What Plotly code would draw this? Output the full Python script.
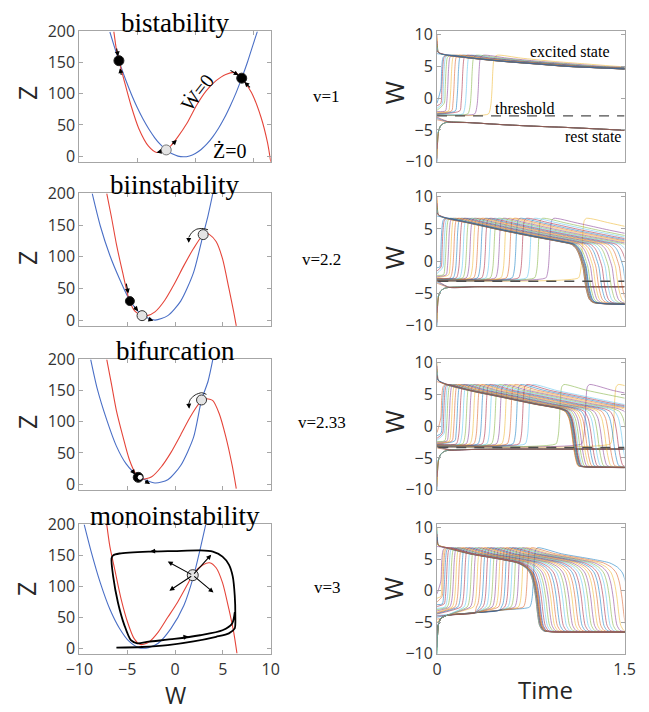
import plotly.graph_objects as go

# ======================= DATA =======================
row_titles = ["bistability", "biinstability", "bifurcation", "monoinstability"]
v_labels = ["v=1", "v=2.2", "v=2.33", "v=3"]

# ---- left panels: red = W-nullcline, blue = Z-nullcline (W, Z) ----
red_w_r1 = [-7.03, -6.80, -6.59, -6.12, -5.56, -4.87, -4.04, -3.34, -2.65, -2.10, -1.54, -0.71, 0.12, 0.95, 1.79, 2.62, 3.45, 4.00, 4.84, 5.67, 6.22, 6.50]
red_z_r1 = [200, 170, 153, 120, 82, 44, 16, 6, 9, 17, 30, 53, 82, 105, 121, 131, 134, 125, 102, 62, 22, -9]
blue_w_r1 = [-7.37, -7.0, -6.5, -6.0, -5.5, -5.0, -4.5, -4.0, -3.5, -3.0, -2.5, -2.0, -1.5, -1.03, -0.5, 0.0, 0.5, 1.0, 1.5, 2.0, 2.5, 3.0, 3.5, 4.0, 4.5, 5.0, 5.35]
blue_z_r1 = [199, 176.5, 148, 122, 98.5, 77.5, 59, 43, 29.4, 18.3, 9.8, 3.7, 0.1, -1, 0.4, 4.3, 10.7, 19.5, 30.9, 44.7, 61, 80, 101, 125, 151, 180, 200]

red_w_r2 = [-7.14, -6.64, -6.13, -5.46, -4.79, -4.20, -3.45, -2.90, -2.10, -1.09, -0.08, 0.92, 1.93, 2.94, 3.30, 3.61, 4.29, 4.96, 5.63, 6.13, 6.40]
red_z_r2 = [200, 162, 120, 74, 32, 14, 7, 7, 13, 31, 57, 86, 113, 135, 136.5, 135, 124, 97, 50, 13, -9]
blue_w_r2 = [-8.66, -7.82, -6.81, -5.80, -4.79, -3.45, -2.10, -0.76, 0.59, 1.93, 2.94, 3.45, 3.95]
blue_z_r2 = [200, 149, 102, 65, 33, 8, 0, 7, 30, 75, 135, 165, 200]

red_w_r3 = [-7.14, -6.64, -6.13, -5.46, -4.79, -4.12, -3.45, -2.44, -1.43, -0.42, 0.59, 1.60, 2.61, 3.28, 3.95, 4.62, 5.29, 5.97, 6.40]
red_z_r3 = [200, 160, 118, 77, 40, 17, 8, 12, 28, 51, 79, 108, 131, 137, 134, 113, 77, 30, -7]
blue_w_r3 = [-8.82, -8.15, -7.14, -6.13, -5.13, -3.78, -2.10, -0.76, 0.59, 1.93, 2.77, 3.45, 3.95]
blue_z_r3 = [200, 154, 103, 61, 33, 12, 2, 7, 30, 75, 135, 165, 200]

red_w_r4 = [-7.14, -6.81, -6.30, -5.63, -4.96, -4.29, -3.61, -2.77, -1.76, -0.76, 0.25, 1.26, 1.93, 2.94, 3.61, 4.29, 4.96, 5.63, 6.13, 6.47]
red_z_r4 = [200, 164, 127, 79, 42, 16, 6, 9.5, 26, 50, 74, 102, 121, 135, 138, 130, 106, 63, 26, -8]
blue_w_r4 = [-9.50, -8.82, -7.82, -6.81, -5.80, -4.79, -3.78, -2.77, -1.76, -0.42, 0.92, 1.93, 2.61, 3.21]
blue_z_r4 = [200, 159, 106, 63, 32, 11, 1, 1, 8, 32, 69, 116, 159, 200]

# limit cycle (monoinstability)
cycle_w = [-6.13, -3.45, -0.76, 1.93, 4.29, 5.63, 6.24, 6.30, 6.24, 6.03, 5.63, 4.96, 3.95, 2.61, -0.08, -2.77, -5.80, -6.47, -6.64, -6.47, -5.97, -5.29, -4.62, -3.95, -2.77, -0.08, 2.61, 4.96, 5.97, 6.24]
cycle_z = [1, 2, 5, 11, 18.5, 24, 32, 53, 85, 116, 135, 148, 156, 158, 157, 156, 153, 150, 145, 116, 74, 37, 13, 8, 10.6, 15, 21, 29, 40, 58]

# fixed points
black_w_r1, black_z_r1 = [-6.59, 4.00], [153, 125]
gray_w_r1, gray_z_r1 = [-2.51], [10]
black_w_r2, black_z_r2 = [-4.72], [30]
gray_w_r2, gray_z_r2 = [-3.45, 2.94], [7, 135]
half_w_r3, half_z_r3 = [-3.85], [11]
gray_w_r3, gray_z_r3 = [2.77], [135]
gray_w_r4, gray_z_r4 = [1.85], [118]

# curved arrows around the upper unstable point (rows 2, 3)
arc_w_r2 = [3.45, 2.94, 2.27, 1.76, 1.43, 1.43]
arc_z_r2 = [142.6, 144.6, 143.6, 138.4, 130.5, 124]
arc_w_r3 = [3.28, 2.77, 2.10, 1.60, 1.43, 1.46]
arc_z_r3 = [144, 146.6, 143, 136, 128.5, 123]

# small arrows (tail W, tail Z, head W, head Z)
arrows_r1 = [(-6.81, 175, -6.66, 160), (-6.36, 128, -6.50, 141), (2.9, 139, 3.73, 129.5),
             (4.84, 108, 4.23, 119), (-2.87, 7.8, -3.34, 5.7), (-2.1, 17, -1.6, 26)]
arrows_r2 = [(-5.13, 60, -4.89, 42), (-4.39, 23.5, -3.85, 14), (-2.94, 2.6, -2.27, -1),
             (1.43, 130.5, 1.43, 122)]
arrows_r3 = [(-4.62, 24.9, -4.18, 15.5), (-3.28, 6.7, -2.61, 0.5), (1.43, 128.5, 1.48, 121)]
arrows_r4 = [(1.85, 118, -0.76, 140), (1.85, 118, 3.78, 151), (1.85, 118, -0.59, 93),
             (1.85, 118, 4.02, 90), (-1.8, 157, -2.6, 156.5), (0.6, 17, 1.4, 19)]

# ---- right panels: W(t) ----
# main waveform of a trajectory, starting at the foot of its upstroke (t, W)
main_t_r1 = [0, 0.012, 0.022, 0.03, 0.037, 0.048, 0.07, 0.26, 0.51, 0.77, 1.03, 1.3, 1.6, 2.0]
main_w_r1 = [-2.5, -2.0, -0.8, 1.5, 4.5, 6.4, 6.75, 6.3, 5.8, 5.4, 5.0, 4.75, 4.5, 4.3]
main_t_r2 = [0, 0.012, 0.022, 0.03, 0.037, 0.048, 0.065, 0.256, 0.513, 0.77, 0.974, 1.077, 1.11, 1.13, 1.15, 1.167, 1.19, 1.218, 1.25, 2.8]
main_w_r2 = [-2.6, -2.1, -0.9, 1.5, 4.5, 6.3, 6.65, 5.9, 4.8, 3.8, 3.06, 2.6, 2.0, 1.3, 0.2, -0.9, -4.0, -5.9, -6.4, -6.4]
main_t_r3 = [0, 0.012, 0.022, 0.03, 0.037, 0.048, 0.065, 0.256, 0.513, 0.77, 0.974, 1.026, 1.056, 1.077, 1.092, 1.108, 1.128, 1.18, 2.8]
main_w_r3 = [-2.8, -2.3, -1.1, 1.3, 4.3, 6.2, 6.55, 5.6, 4.56, 3.5, 2.75, 2.3, 1.2, -0.9, -3.2, -5.0, -6.2, -6.4, -6.4]
main_t_r4 = [0, 0.012, 0.022, 0.03, 0.037, 0.048, 0.065, 0.256, 0.513, 0.641, 0.705, 0.744, 0.77, 0.79, 0.805, 0.82, 0.846, 0.9, 2.4]
main_w_r4 = [-2.6, -2.1, -0.9, 1.5, 4.5, 6.4, 6.8, 5.85, 4.95, 4.4, 3.7, 2.8, 1.2, -1.2, -3.8, -5.5, -6.3, -6.5, -6.3]

# upstroke delays and starting values of the delayed trajectories
delays_r1 = [0.0, 0.008, 0.02, 0.035, 0.055, 0.08, 0.105, 0.135, 0.17, 0.205, 0.245, 0.3, 0.41]
starts_r1 = [-0.8, -1.2, -1.6, -1.9, -2.1, -2.25, -2.35, -2.45, -2.5, -2.55, -2.6, -2.65, -2.7]
delays_r2 = [0, 0.01, 0.025, 0.04, 0.061, 0.081, 0.104, 0.128, 0.153, 0.179, 0.205, 0.233, 0.261, 0.292,
             0.322, 0.356, 0.389, 0.425, 0.466, 0.51, 0.553, 0.599, 0.651, 0.715, 0.779, 0.869, 1.13]
starts_r2 = [-1.0, -1.5, -1.9, -2.2, -2.4, -2.55, -2.65, -2.7, -2.75, -2.8, -2.85, -2.88, -2.9, -2.92,
             -2.94, -2.96, -2.97, -2.98, -2.99, -3.0, -3.0, -3.01, -3.02, -3.02, -3.03, -3.04, -3.05]
delays_r3 = [0, 0.01, 0.022, 0.035, 0.05, 0.068, 0.087, 0.108, 0.13, 0.153, 0.178, 0.204, 0.232, 0.262,
             0.293, 0.326, 0.36, 0.396, 0.434, 0.474, 0.516, 0.56, 0.606, 0.654, 0.704, 0.95, 1.155, 1.385]
starts_r3 = [-1.0, -1.5, -1.9, -2.2, -2.4, -2.55, -2.65, -2.75, -2.8, -2.85, -2.9, -2.95, -3.0, -3.02,
             -3.05, -3.08, -3.1, -3.12, -3.14, -3.16, -3.18, -3.2, -3.2, -3.21, -3.22, -3.23, -3.24, -3.25]
delays_r4 = [0, 0.008, 0.018, 0.03, 0.045, 0.062, 0.08, 0.1, 0.12, 0.142, 0.165, 0.19, 0.215, 0.24, 0.265, 0.29,
             0.315, 0.34, 0.365, 0.39, 0.415, 0.44, 0.465, 0.49, 0.515, 0.54, 0.565, 0.59, 0.62, 0.65, 0.69, 0.74]
starts_r4 = [-0.5, -1.2, -1.8, -2.2, -2.5, -2.8, -3.0, -3.2, -3.4, -3.5, -3.6, -3.7, -10, -9.5, -9, -8.5,
             -8, -7.5, -7, -6.5, -6, -5.5, -5, -4.5, -4.2, -4.0, -3.9, -10, -9, -8, -7, -6]
# slow approach of low starts toward the lower band (row 4)
band_t_r4 = [0.004, 0.012, 0.03, 0.08, 0.3, 0.5, 0.7]
band_w_r4 = [-7.0, -5.3, -4.4, -3.9, -3.5, -3.1, -2.8]

# trajectories that start high and fall to the excited branch
high_starts = [10, 9.5, 9, 8.5, 8, 7.5, 7]
high_delays = [0, 0.004, 0.008, 0.012, 0.016, 0.02, 0.026]
high_t = [0.003, 0.01]
high_w = [8.3, 7.2]

# rest branch and trajectories that settle on it
rest_t_r1 = [0.004, 0.012, 0.03, 0.06, 0.1, 0.26, 0.51, 0.77, 1.03, 1.3, 1.5]
rest_w_r1 = [-7.0, -5.2, -4.3, -3.9, -3.75, -3.85, -4.15, -4.4, -4.6, -4.85, -5.05]
rest_t_r2 = [0.004, 0.012, 0.03, 0.06, 0.1, 0.3, 0.6, 1.0, 1.5]
rest_w_r2 = [-7.0, -5.4, -4.6, -4.2, -4.05, -3.95, -3.95, -3.95, -3.95]
rest_t_r3 = [0.004, 0.012, 0.03, 0.06, 0.1, 0.3, 0.6, 1.0, 1.5]
rest_w_r3 = [-7.0, -5.3, -4.4, -3.95, -3.75, -3.65, -3.6, -3.6, -3.6]
low_starts = [-10, -9.5, -9, -8, -7, -5.5]
near_starts = [-3.0, -3.2, -3.4]

thresholds = [-2.8, -3.1, -3.35]
threshold_t0 = [0.0, 0.01, 0.01]

# ======================= FIGURE =======================
COLORS = ['#0072BD', '#D95319', '#EDB120', '#7E2F8E', '#77AC30', '#4DBEEE', '#A2142F']
RED, BLUE = '#e5453a', '#4a6fc6'
W, H = 649, 712
fig = go.Figure()


def ax_names(n):
    return ('x', 'y') if n == 1 else (f'x{n}', f'y{n}')


def line(n, x, y, color, width, opacity=1.0, dash=None, shape='spline'):
    xa, ya = ax_names(n)
    fig.add_trace(go.Scatter(x=x, y=y, xaxis=xa, yaxis=ya, mode='lines',
                             line=dict(color=color, width=width, shape=shape, smoothing=0.7, dash=dash),
                             opacity=opacity, showlegend=False, hoverinfo='skip'))


def markers(n, x, y, fill, size, edge='#222'):
    xa, ya = ax_names(n)
    fig.add_trace(go.Scatter(x=x, y=y, xaxis=xa, yaxis=ya, mode='markers',
                             marker=dict(color=fill, size=size, line=dict(color=edge, width=1)),
                             showlegend=False, hoverinfo='skip'))


annotations = []


def arrow(n, a):
    xa, ya = ax_names(n)
    annotations.append(dict(x=a[2], y=a[3], ax=a[0], ay=a[1], xref=xa, yref=ya, axref=xa, ayref=ya,
                            showarrow=True, arrowhead=2, arrowsize=0.9, arrowwidth=1.1,
                            arrowcolor='black', text='', standoff=0, startstandoff=0))


# ---------- left panels ----------
lefts = [(1, red_w_r1, red_z_r1, blue_w_r1, blue_z_r1), (3, red_w_r2, red_z_r2, blue_w_r2, blue_z_r2),
         (5, red_w_r3, red_z_r3, blue_w_r3, blue_z_r3), (7, red_w_r4, red_z_r4, blue_w_r4, blue_z_r4)]
for n, rw, rz, bw, bz in lefts:
    line(n, bw, bz, BLUE, 1.1)
    line(n, rw, rz, RED, 1.1)

line(7, cycle_w, cycle_z, 'black', 1.8)
line(3, arc_w_r2[:-1], arc_z_r2[:-1], '#222', 1.0)
line(5, arc_w_r3[:-1], arc_z_r3[:-1], '#222', 1.0)

markers(1, black_w_r1, black_z_r1, 'black', 10)
markers(1, gray_w_r1, gray_z_r1, '#e4e4e4', 10, '#777')
markers(3, black_w_r2, black_z_r2, 'black', 9)
markers(3, gray_w_r2, gray_z_r2, '#e4e4e4', 10, '#333')
markers(5, half_w_r3, half_z_r3, 'black', 10)
markers(5, [half_w_r3[0] + 0.2], [half_z_r3[0]], 'white', 4, 'white')
markers(5, gray_w_r3, gray_z_r3, '#e4e4e4', 10, '#333')
markers(7, gray_w_r4, gray_z_r4, '#e4e4e4', 11, '#333')

for a in arrows_r1:
    arrow(1, a)
for a in arrows_r2:
    arrow(3, a)
for a in arrows_r3:
    arrow(5, a)
for a in arrows_r4:
    arrow(7, a)


# ---------- right panels ----------
def riser(w0, d, mt, mw, pre_t=(), pre_w=()):
    ts, ws = [0.0], [w0]
    for t, w in zip(pre_t, pre_w):
        if t < d and w > ws[-1]:
            ts.append(t)
            ws.append(w)
    peak = mw.index(max(mw))
    for i, (t, w) in enumerate(zip(mt, mw)):
        if i < peak and w <= ws[-1]:
            continue
        ts.append(t + d)
        ws.append(w)
    return ts, ws


def faller(w0, d, mt, mw):
    ts, ws = [0.0], [w0]
    for t, w in zip(high_t, high_w):
        if w < w0:
            ts.append(t)
            ws.append(w)
    peak = mw.index(max(mw))
    for t, w in zip(mt[peak:], mw[peak:]):
        ts.append(t + d)
        ws.append(w)
    return ts, ws


def settle(w0, rt, rw, near):
    ts, ws = [0.0], [w0]
    started = False
    for t, w in zip(rt, rw):
        if near:
            ok = t >= 0.1
        else:
            ok = started or w > w0
        if ok:
            started = True
            ts.append(t)
            ws.append(w)
    return ts, ws


rights = [
    (2, main_t_r1, main_w_r1, delays_r1, starts_r1, rest_t_r1, rest_w_r1, (), ()),
    (4, main_t_r2, main_w_r2, delays_r2, starts_r2, rest_t_r2, rest_w_r2, (), ()),
    (6, main_t_r3, main_w_r3, delays_r3, starts_r3, rest_t_r3, rest_w_r3, (), ()),
    (8, main_t_r4, main_w_r4, delays_r4, starts_r4, None, None, band_t_r4, band_w_r4),
]
LW, OP = 0.7, 0.75
for n, mt, mw, ds, ss, rt, rw, pt, pw in rights:
    k = 0
    if rt is not None:
        for w0 in low_starts:
            ts, ws = settle(w0, rt, rw, False)
            line(n, ts, ws, COLORS[k % 7], LW, OP); k += 1
        for w0 in near_starts:
            ts, ws = settle(w0, rt, rw, True)
            line(n, ts, ws, COLORS[k % 7], LW, OP); k += 1
    for w0, d in zip(ss[::-1], ds[::-1]):
        ts, ws = riser(w0, d, mt, mw, pt, pw)
        line(n, ts, ws, COLORS[k % 7], LW, OP); k += 1
    for w0, d in zip(high_starts, high_delays):
        ts, ws = faller(w0, d, mt, mw)
        line(n, ts, ws, COLORS[k % 7], LW, OP); k += 1

for n, thr, t0 in zip([2, 4, 6], thresholds, threshold_t0):
    line(n, [t0, 1.5], [thr, thr], '#4d4d4d', 1.3, 1.0, dash='10px,8px', shape='linear')

# ---------- layout ----------
rows_px = [(21, 156), (188, 325), (359, 494), (529, 663)]
left_px, right_px = (68, 267), (440, 635)
tickfont = dict(family='Open Sans, Arial, sans-serif', size=16, color='#333333')
common = dict(showline=True, linecolor='#a6a6a6', linewidth=1, mirror='ticks', ticks='inside',
              ticklen=4, tickcolor='#a6a6a6', showgrid=False, zeroline=False, tickfont=tickfont,
              fixedrange=True)
layout = dict(width=W, height=H, margin=dict(l=0, r=0, t=0, b=0), paper_bgcolor='white',
              plot_bgcolor='white', showlegend=False)
for i, (top, bot) in enumerate(rows_px):
    ydom = [1 - bot / H, 1 - top / H]
    nl, nr = 2 * i + 1, 2 * i + 2
    kl = 'xaxis' if nl == 1 else f'xaxis{nl}'
    kyl = 'yaxis' if nl == 1 else f'yaxis{nl}'
    yl = 'y' if nl == 1 else f'y{nl}'
    xl = 'x' if nl == 1 else f'x{nl}'
    xr_range = [-10, 6.5] if i == 0 else [-10, 10]
    layout[kl] = dict(common, domain=[left_px[0] / W, left_px[1] / W], range=xr_range, anchor=yl,
                      tickvals=[-10, -5, 0, 5, 10] if i == 3 else [-5, 0, 5], showticklabels=(i == 3))
    layout[kyl] = dict(common, domain=ydom, range=[-10, 200], anchor=xl, tickvals=[0, 50, 100, 150, 200])
    layout[f'xaxis{nr}'] = dict(common, domain=[right_px[0] / W, right_px[1] / W], range=[0, 1.5],
                                anchor=f'y{nr}', tickvals=[0, 1.5], ticktext=['0', '1.5'],
                                showticklabels=(i == 3))
    layout[f'yaxis{nr}'] = dict(common, domain=ydom, range=[-10.1, 10.5], anchor=f'x{nr}',
                                tickvals=[-10, -5, 0, 5, 10])

serif = 'Liberation Serif, Times New Roman, serif'
sans = 'Open Sans, Arial, sans-serif'


def ptext(px, py, text, size, family, angle=0, color='black'):
    annotations.append(dict(x=px / W, y=1 - py / H, xref='paper', yref='paper', text=text,
                            showarrow=False, textangle=angle, xanchor='center', yanchor='middle',
                            font=dict(family=family, size=size, color=color)))


title_y = [12, 179, 350, 520]
v_pos = [(325, 88), (320, 256), (320, 424), (326, 594)]
z_y = [84, 254, 423, 595]
for i in range(4):
    ptext(167.5, title_y[i], row_titles[i], 27, serif)
    ptext(v_pos[i][0], v_pos[i][1], v_labels[i], 17, serif)
    ptext(13, z_y[i], 'Z', 25, sans, -90, '#262626')
    ptext(395, z_y[i], 'W', 25, sans, -90, '#262626')
ptext(168, 705, 'W', 23, sans, 0, '#262626')
ptext(553, 699, 'Time', 24, sans, 0, '#262626')

# labels inside panels
annotations.append(dict(x=0.1, y=102, xref='x', yref='y', text='\u1E86=0', showarrow=False,
                        textangle=-52, font=dict(family=serif, size=20, color='black')))
annotations.append(dict(x=3.0, y=9, xref='x', yref='y', text='\u017B=0', showarrow=False,
                        font=dict(family=serif, size=20, color='black')))
annotations.append(dict(x=1.06, y=7.3, xref='x2', yref='y2', text='excited state', showarrow=False,
                        font=dict(family=serif, size=16, color='black')))
annotations.append(dict(x=0.70, y=-1.7, xref='x2', yref='y2', text='threshold', showarrow=False,
                        font=dict(family=serif, size=16, color='black')))
annotations.append(dict(x=1.25, y=-6.1, xref='x2', yref='y2', text='rest state', showarrow=False,
                        font=dict(family=serif, size=16, color='black')))

layout['annotations'] = annotations
fig.update_layout(**layout)
fig.write_html("out.html")
